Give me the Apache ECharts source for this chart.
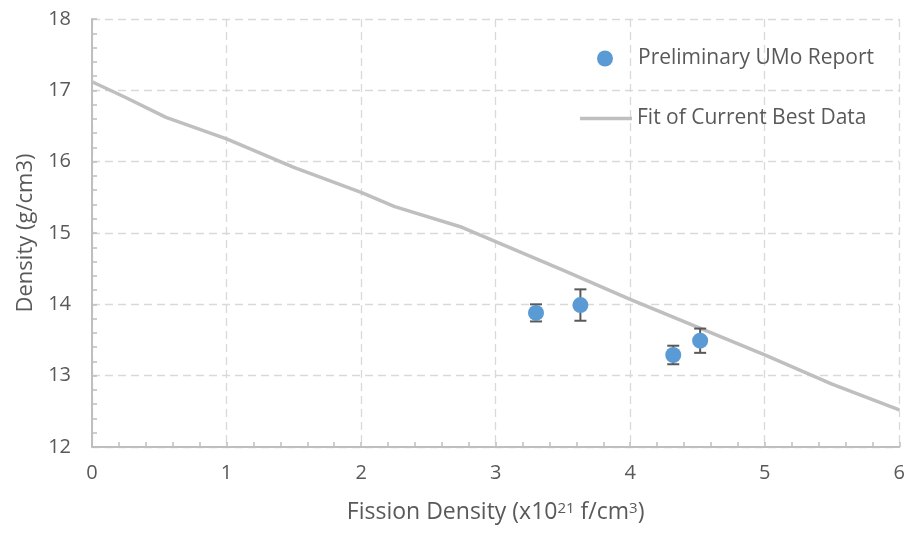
<!DOCTYPE html>
<html>
<head>
<meta charset="utf-8">
<script src="https://cdn.jsdelivr.net/npm/echarts@6/dist/echarts.min.js"></script>
<style>
  html, body { margin: 0; padding: 0; background: #fff; }
  #chart { width: 908px; height: 533px; }
</style>
</head>
<body>
<div id="chart"></div>
<script>
// Measured densities (g/cm3) against fission density (x10^21 f/cm3)
const reportX = [3.30, 3.63, 4.32, 4.52];
const reportY = [13.88, 13.99, 13.29, 13.49];
const reportErr = [0.12, 0.22, 0.13, 0.17];

// Fit curve of the current best data
const fitX = [0, 0.25, 0.55, 1, 1.5, 2, 2.25, 2.75, 3, 3.5, 4, 4.5, 5, 5.5, 6];
const fitY = [17.12, 16.90, 16.62, 16.32, 15.92, 15.57, 15.37, 15.08, 14.88, 14.48, 14.07, 13.68, 13.29, 12.88, 12.52];

const xTicks = [0, 1, 2, 3, 4, 5, 6];
const yTicks = [12, 13, 14, 15, 16, 17, 18];

const seriesNames = ['Preliminary UMo Report', 'Fit of Current Best Data'];

const FONT = 'Open Sans';
const TEXT = '#595959';
const AXIS = '#BFBFBF';
const GRID = '#D9D9D9';

const chart = echarts.init(document.getElementById('chart'), null, { renderer: 'canvas' });

const pts = reportX.map((x, i) => [x, reportY[i]]);
const bars = reportX.map((x, i) => [x, reportY[i] - reportErr[i], reportY[i] + reportErr[i]]);
const fit = fitX.map((x, i) => [x, fitY[i]]);

const axisCommon = {
  axisLine: { show: true, lineStyle: { color: AXIS, width: 2 } },
  axisTick: { show: true, inside: true, length: 5, lineStyle: { color: AXIS, width: 1.5 } },
  minorTick: { show: true, splitNumber: 5, length: 5, lineStyle: { color: AXIS, width: 1.5 } },
  splitLine: { show: true, lineStyle: { color: GRID, width: 1.3, type: [8, 5] } },
  axisLabel: { color: TEXT, fontFamily: FONT, fontSize: 20 },
  nameTextStyle: { color: TEXT, fontFamily: FONT, fontSize: 22 }
};

chart.setOption({
  animation: false,
  backgroundColor: '#fff',
  grid: { left: 92, right: 7, top: 19, bottom: 86 },
  xAxis: Object.assign({}, axisCommon, {
    type: 'value',
    min: xTicks[0],
    max: xTicks[xTicks.length - 1],
    interval: 1,
    axisLabel: Object.assign({}, axisCommon.axisLabel, { margin: 16 }),
    name: '{n|Fission Density (x10}{s|21}{n| f/cm}{s|3}{n|)}',
    nameLocation: 'middle',
    nameGap: 54,
    nameTextStyle: {
      color: TEXT,
      rich: {
        n: { fontFamily: FONT, fontSize: 23, color: TEXT },
        s: { fontFamily: FONT, fontSize: 15, color: TEXT, padding: [0, 0, 8, 0] }
      }
    }
  }),
  yAxis: Object.assign({}, axisCommon, {
    type: 'value',
    min: yTicks[0],
    max: yTicks[yTicks.length - 1],
    interval: 1,
    axisLabel: Object.assign({}, axisCommon.axisLabel, { margin: 21 }),
    name: 'Density (g/cm3)',
    nameLocation: 'middle',
    nameGap: 55
  }),
  legend: [
    {
      data: [seriesNames[0]],
      left: 592,
      top: 43,
      itemWidth: 16,
      itemHeight: 16,
      textStyle: { color: TEXT, fontFamily: FONT, fontSize: 21, padding: [0, 0, 0, 20] }
    },
    {
      data: [{ name: seriesNames[1], icon: 'rect' }],
      left: 575,
      top: 103,
      itemWidth: 52,
      itemHeight: 3.5,
      itemStyle: { color: AXIS },
      textStyle: { color: TEXT, fontFamily: FONT, fontSize: 21, padding: [0, 0, 0, 0] }
    }
  ],
  series: [
    {
      name: seriesNames[1],
      type: 'line',
      data: fit,
      smooth: false,
      showSymbol: false,
      symbol: 'none',
      lineStyle: { color: AXIS, width: 3.5, join: 'round' },
      itemStyle: { color: AXIS },
      z: 2
    },
    {
      name: 'errors',
      type: 'custom',
      data: bars,
      z: 3,
      renderItem: function (params, api) {
        const x = api.value(0);
        const lo = api.coord([x, api.value(1)]);
        const hi = api.coord([x, api.value(2)]);
        const cap = 6;
        const style = { stroke: '#595959', lineWidth: 2, fill: null };
        return {
          type: 'group',
          children: [
            { type: 'line', shape: { x1: lo[0], y1: lo[1], x2: hi[0], y2: hi[1] }, style: style },
            { type: 'line', shape: { x1: lo[0] - cap, y1: lo[1], x2: lo[0] + cap, y2: lo[1] }, style: style },
            { type: 'line', shape: { x1: hi[0] - cap, y1: hi[1], x2: hi[0] + cap, y2: hi[1] }, style: style }
          ]
        };
      }
    },
    {
      name: seriesNames[0],
      type: 'scatter',
      data: pts,
      symbol: 'circle',
      symbolSize: 16,
      itemStyle: { color: '#5B9BD5', opacity: 1 },
      z: 4
    }
  ]
});
</script>
</body>
</html>
